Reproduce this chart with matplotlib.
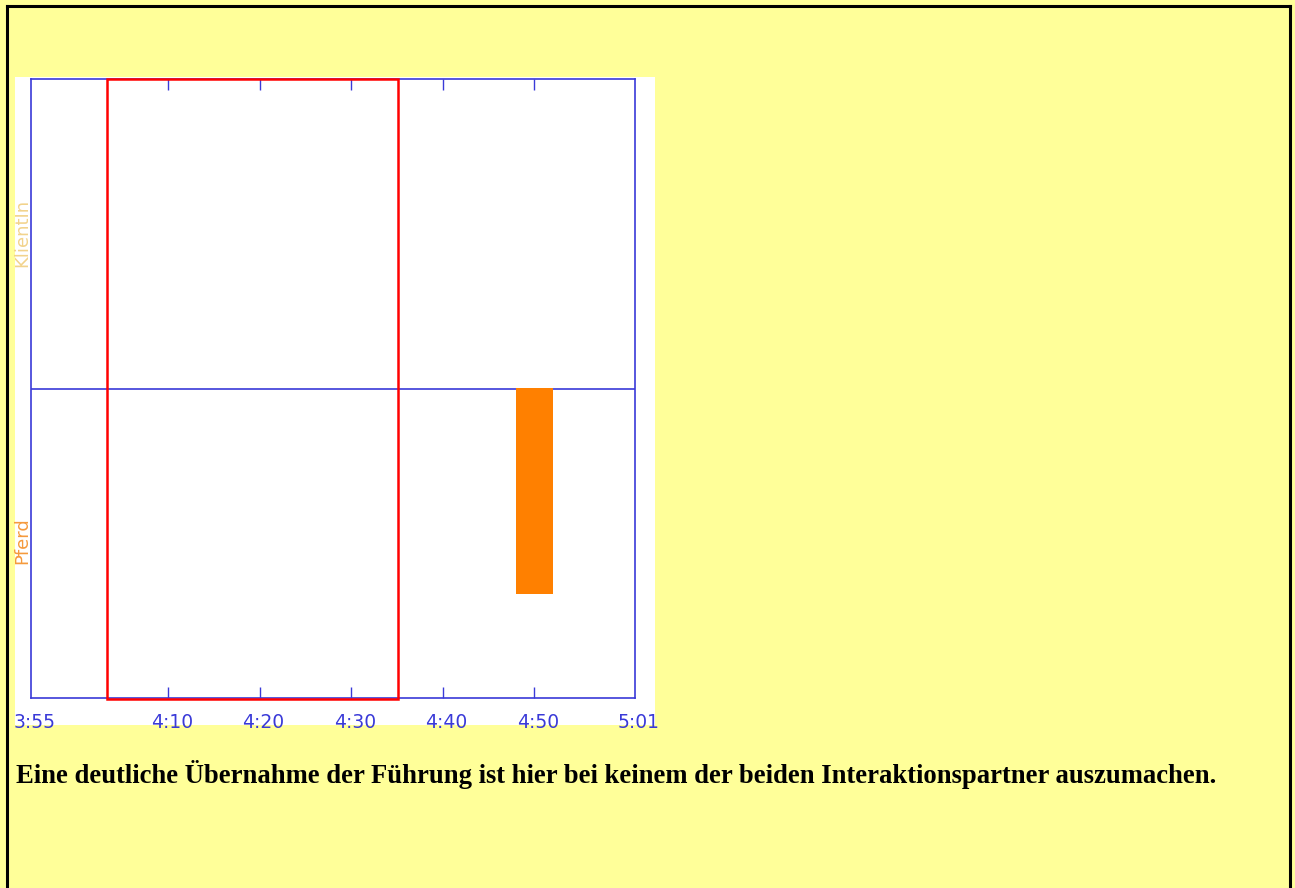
import matplotlib.pyplot as plt
from matplotlib.patches import Rectangle
from matplotlib.lines import Line2D

# time in minutes after midnight (4:10 -> 250)
x_start, x_end = 235, 301
tick_pos = [235, 250, 260, 270, 280, 290, 301]
tick_labels = ["3:55", "4:10", "4:20", "4:30", "4:40", "4:50", "5:01"]
lanes = ["Pferd", "KlientIn"]
lane_colors = ["#F59A3C", "#F2D38C"]

# highlighted window (red frame)
window = (243.3, 275.1)
# orange event in the Pferd lane: start, end, bottom, top
event_start, event_end = 288.0, 292.0
event_bottom, event_top = 0.335, 1.0

caption = ("Eine deutliche Übernahme der Führung ist hier bei keinem "
           "der beiden Interaktionspartner auszumachen.")

W, H = 1295, 888
fig = plt.figure(figsize=(W / 100, H / 100), dpi=100, facecolor="#FFFF99")

def fx(px):
    return px / W

def fy(py):
    return 1 - py / H

# black page frame (open at the bottom)
for xs, ys in [([7, 7], [6, 900]), ([7, 1290], [6, 6]), ([1290, 1290], [6, 900])]:
    fig.add_artist(Line2D([fx(v) for v in xs], [fy(v) for v in ys],
                          color="black", lw=2.2, transform=fig.transFigure))

# white chart panel
fig.add_artist(Rectangle((fx(15), fy(725)), fx(655) - fx(15), fy(77) - fy(725),
                         facecolor="white", edgecolor="none",
                         transform=fig.transFigure, zorder=0))

blue = "#3a3ad8"
ax = fig.add_axes([fx(31), fy(698), fx(635) - fx(31), fy(79) - fy(698)])
ax.set_facecolor("white")
ax.set_xlim(x_start, x_end)
ax.set_ylim(0, 2)
for s in ax.spines.values():
    s.set_color(blue)
    s.set_linewidth(1.2)
ax.axhline(1, color=blue, lw=1.2)

ax.bar([(event_start + event_end) / 2], [event_top - event_bottom],
       width=event_end - event_start, bottom=event_bottom,
       color="#FF8000", zorder=2)

ax.add_patch(Rectangle((window[0], -0.003), window[1] - window[0], 2.003,
                       fill=False, edgecolor="#FF0000", lw=1.8,
                       clip_on=False, zorder=3))

ax.set_xticks(tick_pos[1:-1])
ax.set_xticklabels([])
ax.tick_params(axis="x", direction="in", length=8, width=1, color=blue,
               top=True, bottom=True)
ax.set_yticks([])

for p, lab in zip(tick_pos, tick_labels):
    ax.text(p + 0.4, -0.05, lab, color=blue, fontsize=13.5,
            ha="center", va="top")

for i, (lab, c) in enumerate(zip(lanes, lane_colors)):
    fig.text(fx(22), fy(541 if i == 0 else 233), lab, color=c, fontsize=13,
             rotation=90, ha="center", va="center")

fig.text(fx(16), fy(783), caption, fontsize=19.2, fontweight="bold",
         family="Liberation Serif", ha="left", va="baseline")

fig.savefig("out.png", dpi=100, facecolor=fig.get_facecolor())
